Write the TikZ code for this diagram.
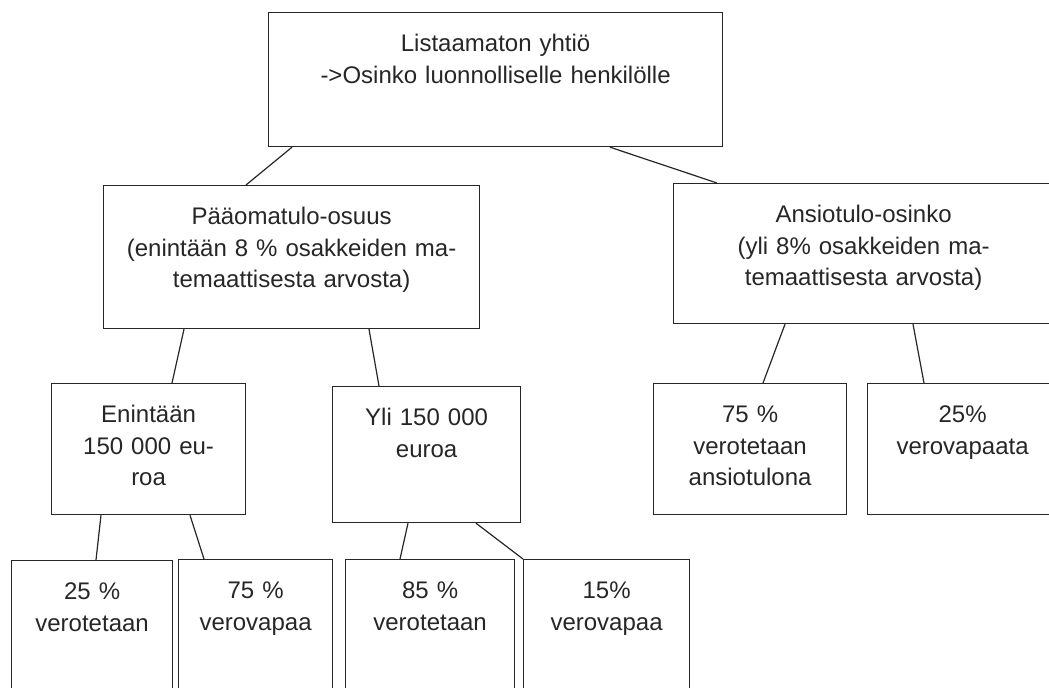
\documentclass[tikz,border=0pt]{standalone}
\usepackage{fontspec}
\setmainfont{Liberation Sans}
\usetikzlibrary{positioning}

\begin{document}
\begin{tikzpicture}[
    x=0.5pt, y=-0.5pt,
    box/.style 2 args={rectangle, draw=black!85, line width=0.6pt, anchor=north west, align=center,
        inner xsep=0pt, inner ysep=10.5pt, text width=#1, text height=9pt, text depth=#2,
        font=\fontsize{12}{15.8}\selectfont, text=black!85},
    link/.style={draw=black!85, line width=0.6pt}
]
\useasboundingbox (0,0) rectangle (1049,688);
\clip (0,0) rectangle (1049,688);

% top level
\node[box={227pt}{37pt}] (yhtio) at (268, 12) {Listaamaton yhtiö\\->Osinko luonnolliselle henkilölle};

% second level
\node[box={188pt}{41.5pt}] (paaoma) at (103, 185) {Pääomatulo-osuus\\(enintään 8 \% osakkeiden ma-\\temaattisesta arvosta)};
\node[box={190pt}{40pt}] (ansio) at (673, 183) {Ansiotulo-osinko\\(yli 8\% osakkeiden ma-\\temaattisesta arvosta)};
\draw[link] ([xshift=12pt]yhtio.south west) -- ([xshift=71.5pt]paaoma.north west);
\draw[link] ([xshift=171pt]yhtio.south west) -- ([xshift=22pt]ansio.north west);

% third level
\node[box={97pt}{35.5pt}] (enint) at (51, 383) {Enintään\\150 000 eu-\\roa};
\node[box={94pt}{38pt}] (yli) at (332, 386) {Yli 150 000\\euroa};
\node[box={96.5pt}{35.5pt}] (ansvero) at (653, 383) {75 \%\\verotetaan\\ansiotulona};
\node[box={95pt}{35.5pt}] (ansvapaa) at (867, 383) {25\%\\verovapaata};
\draw[link] ([xshift=40.5pt]paaoma.south west) -- ([xshift=60.5pt]enint.north west);
\draw[link] ([xshift=133pt]paaoma.south west) -- ([xshift=23.5pt]yli.north west);
\draw[link] ([xshift=56pt]ansio.south west) -- ([xshift=55pt]ansvero.north west);
\draw[link] ([xshift=120pt]ansio.south west) -- ([xshift=28.5pt]ansvapaa.north west);

% bottom level
\node[box={80.5pt}{45pt}] (envero) at (11, 560) {25 \%\\verotetaan};
\node[box={77pt}{45pt}] (envapaa) at (178, 559) {75 \%\\verovapaa};
\node[box={84.5pt}{45pt}] (ylivero) at (345, 559) {85 \%\\verotetaan};
\node[box={83pt}{45pt}] (ylivapaa) at (523, 559) {15\%\\verovapaa};
\draw[link] ([xshift=25pt]enint.south west) -- ([xshift=42.5pt]envero.north west);
\draw[link] ([xshift=69.5pt]enint.south west) -- ([xshift=13pt]envapaa.north west);
\draw[link] ([xshift=38pt]yli.south west) -- ([xshift=27.5pt]ylivero.north west);
\draw[link] ([xshift=72pt]yli.south west) -- (ylivapaa.north west);

\end{tikzpicture}
\end{document}
